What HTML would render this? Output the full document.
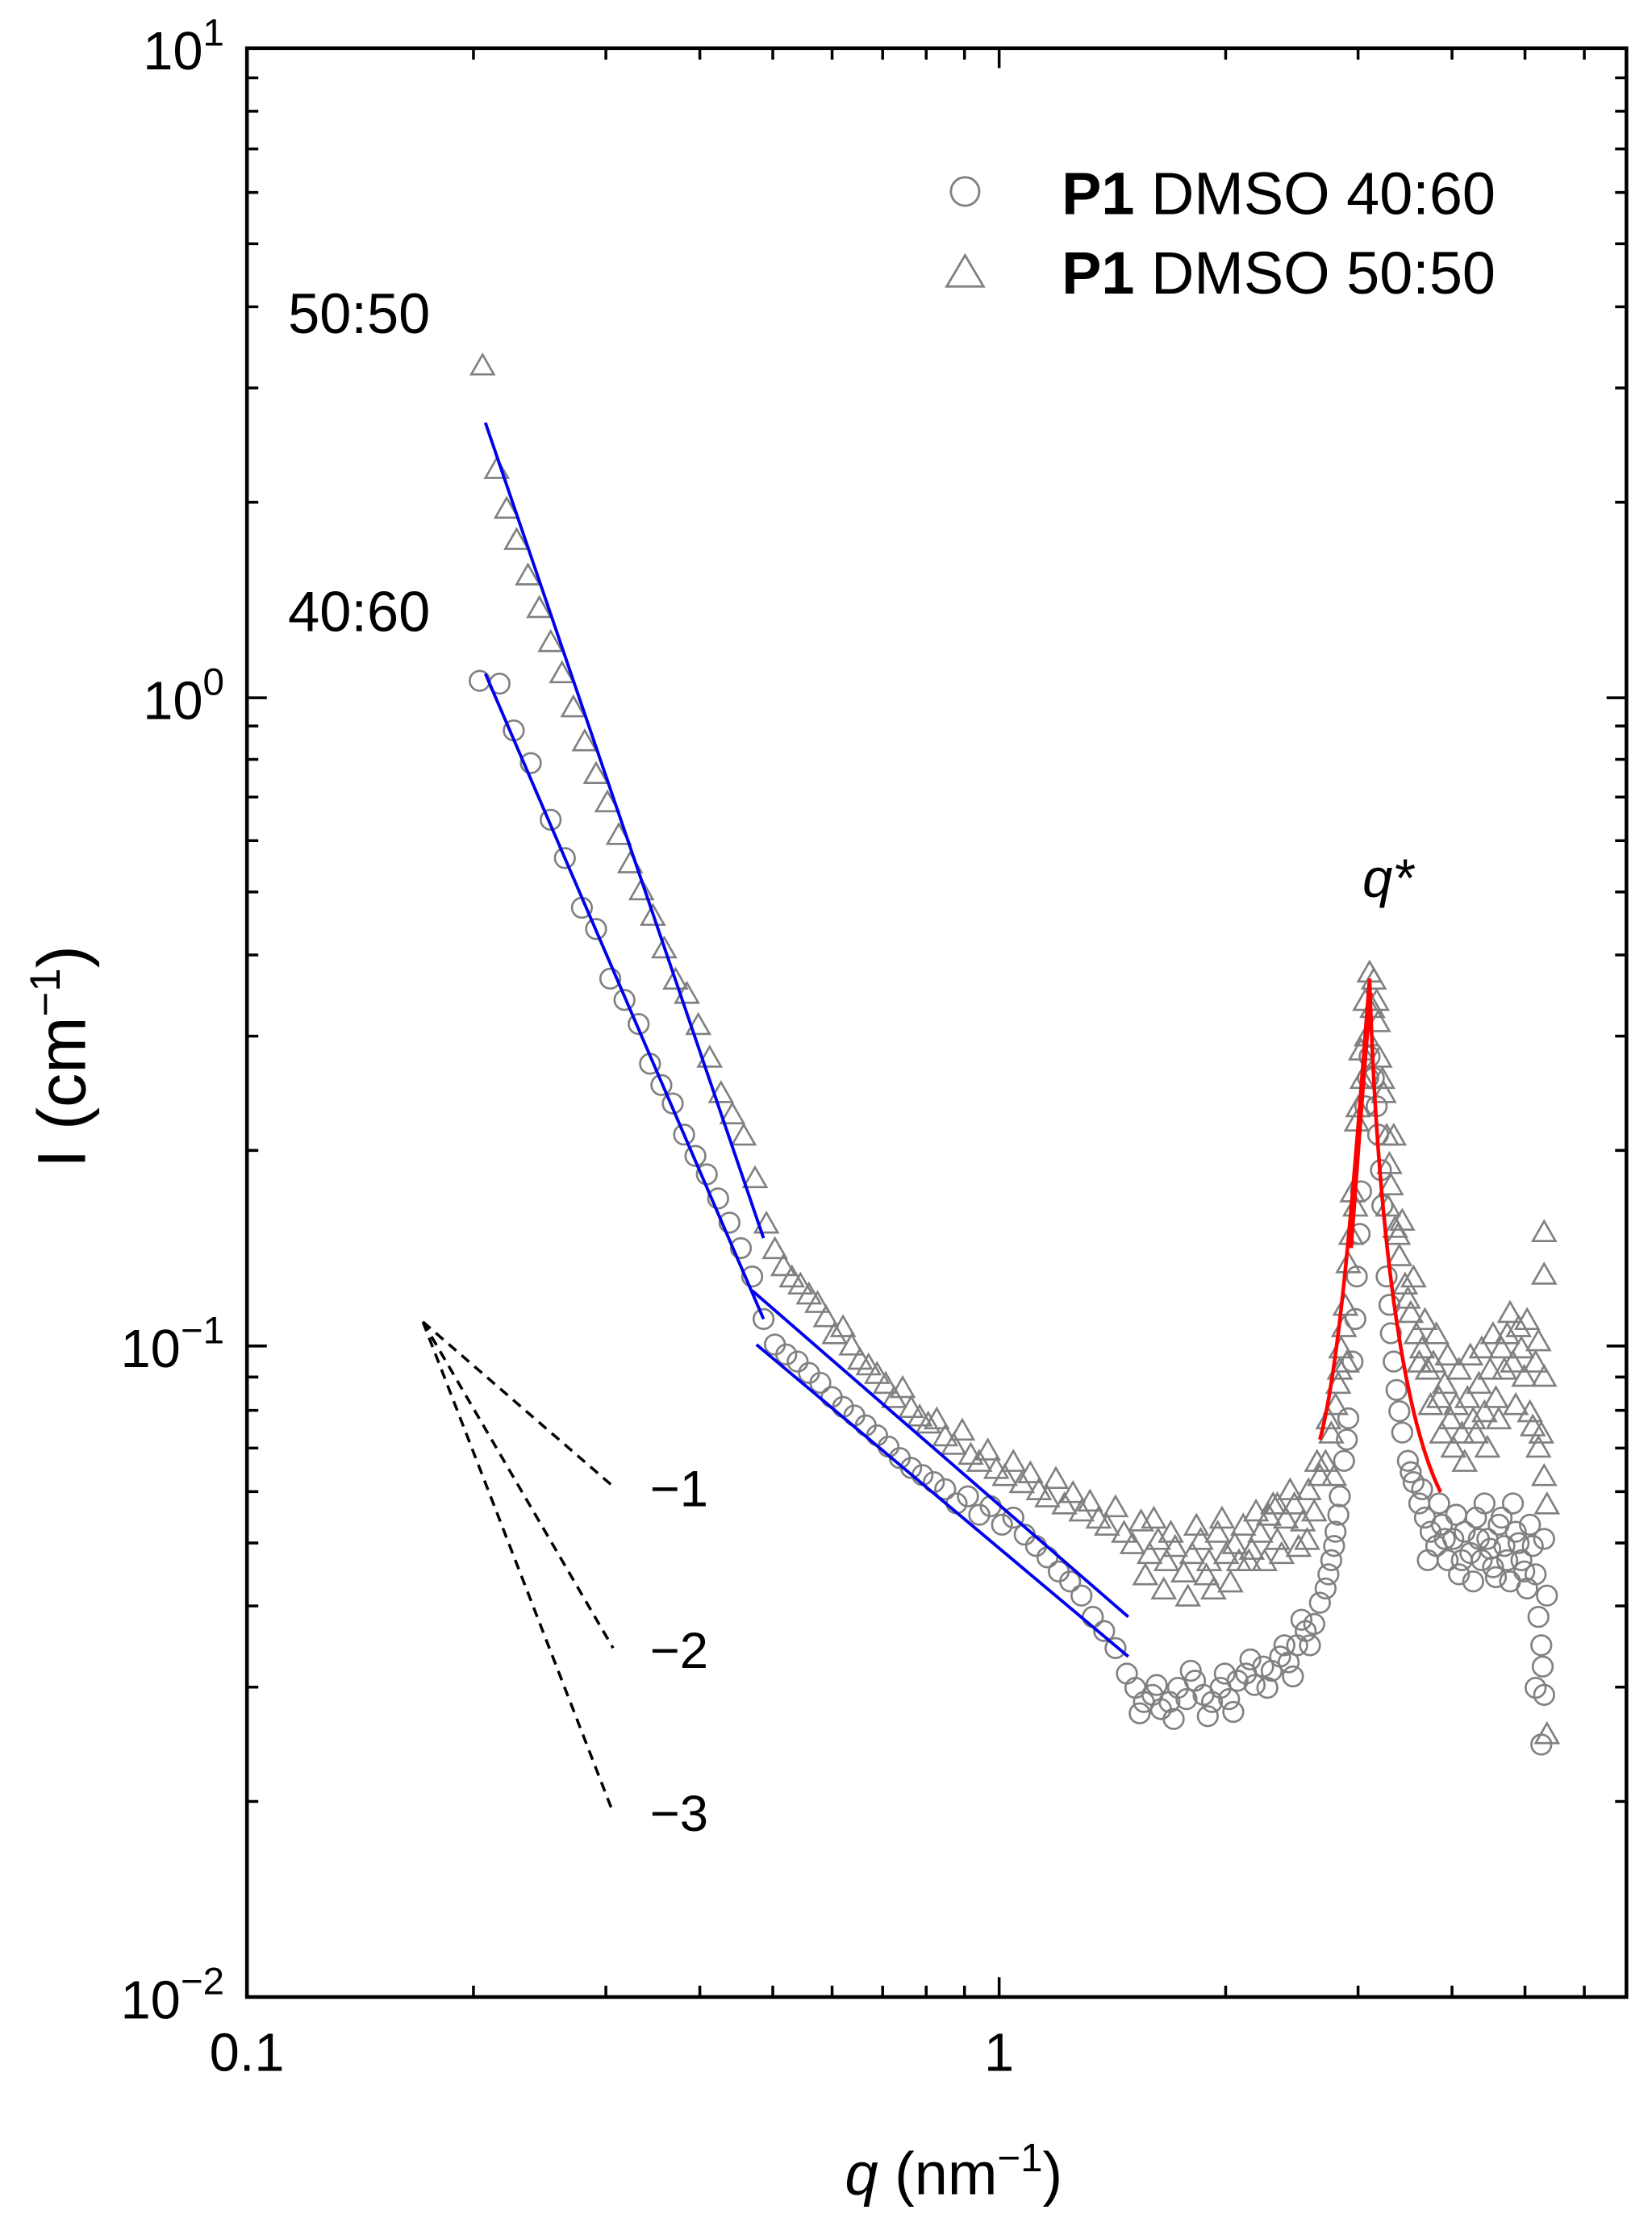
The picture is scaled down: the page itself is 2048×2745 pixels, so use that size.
<!DOCTYPE html>
<html><head><meta charset="utf-8"><style>html,body{margin:0;padding:0;background:#fff}svg{display:block}</style></head>
<body>
<svg xmlns="http://www.w3.org/2000/svg" xmlns:xlink="http://www.w3.org/1999/xlink" width="2048" height="2745" viewBox="0 0 1164 1561" preserveAspectRatio="none" font-family="Liberation Sans, Arial, sans-serif">
<defs>
<circle id="c" cx="0" cy="0" r="7" fill="none" stroke="#808080" stroke-width="1.5"/>
<path id="t" d="M-8,7 L0,-7 L8,7 Z" fill="none" stroke="#808080" stroke-width="1.5"/>
</defs>
<rect width="1164" height="1561" fill="#fff"/>
<g>
<use href="#c" x="338" y="480"/><use href="#c" x="352" y="482"/><use href="#c" x="362" y="515"/><use href="#c" x="374" y="538"/><use href="#c" x="388" y="578"/><use href="#c" x="398" y="605"/><use href="#c" x="410" y="640"/><use href="#c" x="420" y="655"/><use href="#c" x="430" y="690"/><use href="#c" x="440" y="705"/><use href="#c" x="450" y="722"/><use href="#c" x="458" y="750"/><use href="#c" x="466" y="765"/><use href="#c" x="474" y="778"/><use href="#c" x="482" y="800"/><use href="#c" x="490" y="815"/><use href="#c" x="498" y="828"/><use href="#c" x="506" y="845"/><use href="#c" x="514" y="862"/><use href="#c" x="522" y="880"/><use href="#c" x="530" y="900"/><use href="#c" x="538" y="930"/><use href="#c" x="546" y="948"/><use href="#c" x="554" y="955"/><use href="#c" x="562" y="960"/><use href="#c" x="570" y="968"/><use href="#c" x="578" y="975"/><use href="#c" x="586" y="985"/><use href="#c" x="594" y="992"/><use href="#c" x="602" y="998"/><use href="#c" x="610" y="1005"/><use href="#c" x="618" y="1012"/><use href="#c" x="626" y="1020"/><use href="#c" x="634" y="1028"/><use href="#c" x="642" y="1035"/><use href="#c" x="650" y="1040"/><use href="#c" x="658" y="1045"/><use href="#c" x="666" y="1050"/><use href="#c" x="674" y="1060"/><use href="#c" x="682" y="1055"/><use href="#c" x="690" y="1068"/><use href="#c" x="698" y="1062"/><use href="#c" x="706" y="1075"/><use href="#c" x="714" y="1070"/><use href="#c" x="722" y="1082"/><use href="#c" x="730" y="1090"/><use href="#c" x="738" y="1098"/><use href="#c" x="746" y="1108"/><use href="#c" x="754" y="1115"/><use href="#c" x="762" y="1125"/><use href="#c" x="770" y="1140"/><use href="#c" x="778" y="1150"/><use href="#c" x="786" y="1162"/><use href="#c" x="794" y="1180"/><use href="#c" x="800" y="1190"/><use href="#c" x="806" y="1200"/><use href="#c" x="812" y="1195"/><use href="#c" x="818" y="1205"/><use href="#c" x="824" y="1200"/><use href="#c" x="830" y="1190"/><use href="#c" x="836" y="1198"/><use href="#c" x="842" y="1185"/><use href="#c" x="848" y="1195"/><use href="#c" x="854" y="1200"/><use href="#c" x="860" y="1190"/><use href="#c" x="866" y="1198"/><use href="#c" x="872" y="1185"/><use href="#c" x="878" y="1180"/><use href="#c" x="884" y="1188"/><use href="#c" x="890" y="1175"/><use href="#c" x="896" y="1178"/><use href="#c" x="902" y="1168"/><use href="#c" x="908" y="1172"/><use href="#c" x="914" y="1160"/><use href="#c" x="920" y="1150"/><use href="#c" x="926" y="1145"/><use href="#c" x="930" y="1130"/><use href="#c" x="934" y="1120"/><use href="#c" x="938" y="1100"/><use href="#c" x="941" y="1080"/><use href="#c" x="944" y="1055"/><use href="#c" x="947" y="1030"/><use href="#c" x="950" y="1000"/><use href="#c" x="953" y="960"/><use href="#c" x="956" y="900"/><use href="#c" x="959" y="840"/><use href="#c" x="962" y="780"/><use href="#c" x="965" y="745"/><use href="#c" x="968" y="760"/><use href="#c" x="971" y="800"/><use href="#c" x="974" y="850"/><use href="#c" x="977" y="900"/><use href="#c" x="980" y="940"/><use href="#c" x="984" y="980"/><use href="#c" x="988" y="1010"/><use href="#c" x="992" y="1030"/><use href="#c" x="996" y="1045"/><use href="#c" x="1000" y="1060"/><use href="#c" x="1004" y="1070"/><use href="#c" x="1008" y="1080"/><use href="#c" x="1012" y="1090"/><use href="#c" x="1016" y="1075"/><use href="#c" x="1020" y="1100"/><use href="#c" x="1024" y="1085"/><use href="#c" x="1028" y="1110"/><use href="#c" x="1032" y="1080"/><use href="#c" x="1036" y="1095"/><use href="#c" x="1040" y="1070"/><use href="#c" x="1044" y="1100"/><use href="#c" x="1048" y="1085"/><use href="#c" x="1052" y="1105"/><use href="#c" x="1056" y="1075"/><use href="#c" x="1060" y="1090"/><use href="#c" x="1064" y="1115"/><use href="#c" x="1068" y="1080"/><use href="#c" x="1072" y="1100"/><use href="#c" x="1076" y="1120"/><use href="#c" x="1080" y="1090"/><use href="#c" x="1084" y="1140"/><use href="#c" x="1086" y="1160"/><use href="#c" x="1088" y="1195"/><use href="#c" x="1082" y="1190"/><use href="#c" x="1086" y="1230"/>
<use href="#c" x="803" y="1208"/><use href="#c" x="815" y="1188"/><use href="#c" x="827" y="1212"/><use href="#c" x="839" y="1178"/><use href="#c" x="851" y="1210"/><use href="#c" x="863" y="1180"/><use href="#c" x="869" y="1207"/><use href="#c" x="881" y="1170"/><use href="#c" x="893" y="1190"/><use href="#c" x="905" y="1160"/><use href="#c" x="911" y="1182"/><use href="#c" x="917" y="1142"/><use href="#c" x="923" y="1160"/><use href="#c" x="936" y="1110"/><use href="#c" x="940" y="1090"/><use href="#c" x="943" y="1068"/><use href="#c" x="949" y="1015"/><use href="#c" x="955" y="930"/><use href="#c" x="958" y="870"/><use href="#c" x="964" y="760"/><use href="#c" x="970" y="780"/><use href="#c" x="973" y="825"/><use href="#c" x="979" y="920"/><use href="#c" x="982" y="960"/><use href="#c" x="986" y="995"/><use href="#c" x="994" y="1038"/><use href="#c" x="1002" y="1050"/><use href="#c" x="1006" y="1100"/><use href="#c" x="1014" y="1060"/><use href="#c" x="1018" y="1085"/><use href="#c" x="1026" y="1068"/><use href="#c" x="1030" y="1100"/><use href="#c" x="1038" y="1115"/><use href="#c" x="1042" y="1085"/><use href="#c" x="1046" y="1060"/><use href="#c" x="1050" y="1092"/><use href="#c" x="1054" y="1112"/><use href="#c" x="1058" y="1070"/><use href="#c" x="1062" y="1100"/><use href="#c" x="1066" y="1060"/><use href="#c" x="1070" y="1088"/><use href="#c" x="1074" y="1108"/><use href="#c" x="1078" y="1075"/><use href="#c" x="1082" y="1110"/><use href="#c" x="1088" y="1085"/><use href="#c" x="1090" y="1125"/><use href="#c" x="1087" y="1175"/>
</g>
<g>
<use href="#t" x="340" y="257"/><use href="#t" x="350" y="330"/><use href="#t" x="357" y="358"/><use href="#t" x="364" y="380"/><use href="#t" x="372" y="405"/><use href="#t" x="380" y="428"/><use href="#t" x="388" y="452"/><use href="#t" x="396" y="474"/><use href="#t" x="404" y="498"/><use href="#t" x="412" y="522"/><use href="#t" x="420" y="545"/><use href="#t" x="428" y="565"/><use href="#t" x="436" y="588"/><use href="#t" x="444" y="608"/><use href="#t" x="452" y="627"/><use href="#t" x="460" y="645"/><use href="#t" x="468" y="668"/><use href="#t" x="476" y="690"/><use href="#t" x="484" y="700"/><use href="#t" x="492" y="722"/><use href="#t" x="500" y="745"/><use href="#t" x="508" y="770"/><use href="#t" x="516" y="785"/><use href="#t" x="524" y="800"/><use href="#t" x="532" y="830"/><use href="#t" x="540" y="862"/><use href="#t" x="546" y="880"/><use href="#t" x="552" y="892"/><use href="#t" x="558" y="900"/><use href="#t" x="564" y="905"/><use href="#t" x="570" y="912"/><use href="#t" x="576" y="918"/><use href="#t" x="582" y="928"/><use href="#t" x="588" y="940"/><use href="#t" x="594" y="935"/><use href="#t" x="600" y="948"/><use href="#t" x="606" y="958"/><use href="#t" x="612" y="962"/><use href="#t" x="618" y="968"/><use href="#t" x="624" y="975"/><use href="#t" x="630" y="985"/><use href="#t" x="636" y="978"/><use href="#t" x="642" y="992"/><use href="#t" x="648" y="998"/><use href="#t" x="654" y="1003"/><use href="#t" x="660" y="1000"/><use href="#t" x="666" y="1012"/><use href="#t" x="672" y="1018"/><use href="#t" x="678" y="1008"/><use href="#t" x="684" y="1025"/><use href="#t" x="690" y="1030"/><use href="#t" x="696" y="1022"/><use href="#t" x="702" y="1035"/><use href="#t" x="708" y="1040"/><use href="#t" x="714" y="1030"/><use href="#t" x="720" y="1045"/><use href="#t" x="726" y="1038"/><use href="#t" x="732" y="1050"/><use href="#t" x="738" y="1055"/><use href="#t" x="744" y="1042"/><use href="#t" x="750" y="1060"/><use href="#t" x="756" y="1052"/><use href="#t" x="762" y="1065"/><use href="#t" x="768" y="1058"/><use href="#t" x="774" y="1070"/><use href="#t" x="780" y="1075"/><use href="#t" x="786" y="1062"/><use href="#t" x="792" y="1080"/><use href="#t" x="798" y="1088"/><use href="#t" x="804" y="1072"/><use href="#t" x="810" y="1095"/><use href="#t" x="816" y="1085"/><use href="#t" x="822" y="1100"/><use href="#t" x="828" y="1090"/><use href="#t" x="834" y="1108"/><use href="#t" x="840" y="1095"/><use href="#t" x="846" y="1085"/><use href="#t" x="852" y="1100"/><use href="#t" x="858" y="1080"/><use href="#t" x="864" y="1095"/><use href="#t" x="870" y="1088"/><use href="#t" x="876" y="1075"/><use href="#t" x="882" y="1092"/><use href="#t" x="888" y="1080"/><use href="#t" x="894" y="1068"/><use href="#t" x="900" y="1085"/><use href="#t" x="906" y="1070"/><use href="#t" x="912" y="1060"/><use href="#t" x="918" y="1072"/><use href="#t" x="922" y="1050"/><use href="#t" x="926" y="1065"/><use href="#t" x="930" y="1040"/><use href="#t" x="934" y="1030"/><use href="#t" x="938" y="1010"/><use href="#t" x="941" y="990"/><use href="#t" x="944" y="965"/><use href="#t" x="947" y="935"/><use href="#t" x="950" y="890"/><use href="#t" x="953" y="840"/><use href="#t" x="956" y="790"/><use href="#t" x="959" y="740"/><use href="#t" x="962" y="705"/><use href="#t" x="965" y="685"/><use href="#t" x="968" y="690"/><use href="#t" x="971" y="720"/><use href="#t" x="974" y="760"/><use href="#t" x="977" y="800"/><use href="#t" x="980" y="835"/><use href="#t" x="983" y="865"/><use href="#t" x="986" y="885"/><use href="#t" x="990" y="905"/><use href="#t" x="994" y="925"/><use href="#t" x="998" y="940"/><use href="#t" x="1002" y="950"/><use href="#t" x="1006" y="965"/><use href="#t" x="1010" y="960"/><use href="#t" x="1014" y="985"/><use href="#t" x="1018" y="975"/><use href="#t" x="1022" y="1000"/><use href="#t" x="1026" y="990"/><use href="#t" x="1030" y="1010"/><use href="#t" x="1034" y="985"/><use href="#t" x="1038" y="1000"/><use href="#t" x="1042" y="975"/><use href="#t" x="1046" y="995"/><use href="#t" x="1050" y="965"/><use href="#t" x="1054" y="985"/><use href="#t" x="1058" y="950"/><use href="#t" x="1062" y="940"/><use href="#t" x="1066" y="960"/><use href="#t" x="1070" y="935"/><use href="#t" x="1074" y="970"/><use href="#t" x="1078" y="995"/><use href="#t" x="1082" y="960"/><use href="#t" x="1086" y="1010"/><use href="#t" x="1088" y="868"/><use href="#t" x="1088" y="898"/><use href="#t" x="1090" y="1222"/><use href="#t" x="1088" y="1040"/><use href="#t" x="1084" y="1020"/>
<use href="#t" x="948" y="920"/><use href="#t" x="952" y="870"/><use href="#t" x="957" y="780"/><use href="#t" x="970" y="705"/><use href="#t" x="975" y="770"/><use href="#t" x="979" y="820"/><use href="#t" x="985" y="870"/><use href="#t" x="992" y="915"/><use href="#t" x="960" y="760"/><use href="#t" x="945" y="950"/><use href="#t" x="820" y="1120"/><use href="#t" x="850" y="1110"/><use href="#t" x="880" y="1100"/><use href="#t" x="900" y="1060"/><use href="#t" x="915" y="1090"/>
<use href="#t" x="807" y="1110"/><use href="#t" x="813" y="1070"/><use href="#t" x="825" y="1080"/><use href="#t" x="837" y="1125"/><use href="#t" x="843" y="1075"/><use href="#t" x="855" y="1120"/><use href="#t" x="861" y="1070"/><use href="#t" x="867" y="1115"/><use href="#t" x="873" y="1100"/><use href="#t" x="885" y="1065"/><use href="#t" x="891" y="1100"/><use href="#t" x="897" y="1060"/><use href="#t" x="903" y="1095"/><use href="#t" x="909" y="1050"/><use href="#t" x="921" y="1085"/><use href="#t" x="928" y="1030"/><use href="#t" x="936" y="1000"/><use href="#t" x="940" y="1040"/><use href="#t" x="943" y="975"/><use href="#t" x="949" y="960"/><use href="#t" x="955" y="850"/><use href="#t" x="963" y="730"/><use href="#t" x="967" y="710"/><use href="#t" x="972" y="745"/><use href="#t" x="978" y="850"/><use href="#t" x="982" y="800"/><use href="#t" x="988" y="860"/><use href="#t" x="996" y="900"/><use href="#t" x="1000" y="960"/><use href="#t" x="1004" y="930"/><use href="#t" x="1008" y="990"/><use href="#t" x="1012" y="940"/><use href="#t" x="1016" y="1010"/><use href="#t" x="1020" y="955"/><use href="#t" x="1024" y="1020"/><use href="#t" x="1028" y="965"/><use href="#t" x="1032" y="1030"/><use href="#t" x="1036" y="955"/><use href="#t" x="1040" y="1010"/><use href="#t" x="1044" y="950"/><use href="#t" x="1048" y="1020"/><use href="#t" x="1052" y="940"/><use href="#t" x="1056" y="1000"/><use href="#t" x="1060" y="965"/><use href="#t" x="1064" y="925"/><use href="#t" x="1068" y="990"/><use href="#t" x="1072" y="950"/><use href="#t" x="1076" y="930"/><use href="#t" x="1080" y="1005"/><use href="#t" x="1084" y="945"/><use href="#t" x="1088" y="970"/><use href="#t" x="1090" y="1060"/>
</g>
<g fill="none" stroke="#0000ee" stroke-width="2.2">
<path d="M342,298 L538,873"/>
<path d="M342,475 L538,930"/>
<path d="M530,910 L795,1140"/>
<path d="M533,948 L795,1168"/>
</g>
<g fill="none" stroke="#ff0000" stroke-width="2.6">
<path d="M930,1015 C945,960 955,820 965,690"/>
<path d="M965,690 C969,820 982,985 1015,1052"/>
<path d="M952,880 C958,800 962,740 966,700"/>
</g>
<g stroke="#000" stroke-width="2" stroke-dasharray="7,5" fill="none">
<path d="M298,932 L432,1048"/>
<path d="M298,932 L432,1162"/>
<path d="M298,932 L432,1278"/>
</g>
<g font-size="36" fill="#000">
<text x="458" y="1062">−1</text>
<text x="458" y="1176">−2</text>
<text x="458" y="1291">−3</text>
<text x="203" y="235" font-size="40">50:50</text>
<text x="203" y="445" font-size="40">40:60</text>
<text x="960" y="632" font-size="38" font-style="italic">q*</text>
</g>
<circle cx="680" cy="135" r="10" fill="none" stroke="#808080" stroke-width="1.6"/>
<path d="M667,202 L680,180 L693,202 Z" fill="none" stroke="#808080" stroke-width="1.6"/>
<g font-size="42" fill="#000">
<text x="748" y="151"><tspan font-weight="bold">P1</tspan> DMSO  40:60</text>
<text x="748" y="207"><tspan font-weight="bold">P1</tspan> DMSO  50:50</text>
</g>
<path stroke="#000" stroke-width="2" fill="none" d="
M333.6,1408v-8M426.9,1408v-8M493.1,1408v-8M544.5,1408v-8M586.3,1408v-8M621.9,1408v-8M652.6,1408v-8M679.6,1408v-8M704,1408v-14M863.6,1408v-8M956.9,1408v-8M1023.1,1408v-8M1074.5,1408v-8M1116.3,1408v-8
M333.6,34v8M426.9,34v8M493.1,34v8M544.5,34v8M586.3,34v8M621.9,34v8M652.6,34v8M679.6,34v8M704,34v14M863.6,34v8M956.9,34v8M1023.1,34v8M1074.5,34v8M1116.3,34v8
M174,354.1h8M174,273.5h8M174,216.3h8M174,171.9h8M174,135.7h8M174,105h8M174,78.4h8M174,54.9h8M174,492h14
M174,811.1h8M174,730.5h8M174,673.3h8M174,628.9h8M174,592.7h8M174,562h8M174,535.4h8M174,511.9h8M174,949h14
M174,1270.1h8M174,1189.5h8M174,1132.3h8M174,1087.9h8M174,1051.7h8M174,1021h8M174,994.4h8M174,970.9h8
M1146,354.1h-8M1146,273.5h-8M1146,216.3h-8M1146,171.9h-8M1146,135.7h-8M1146,105h-8M1146,78.4h-8M1146,54.9h-8M1146,492h-14
M1146,811.1h-8M1146,730.5h-8M1146,673.3h-8M1146,628.9h-8M1146,592.7h-8M1146,562h-8M1146,535.4h-8M1146,511.9h-8M1146,949h-14
M1146,1270.1h-8M1146,1189.5h-8M1146,1132.3h-8M1146,1087.9h-8M1146,1051.7h-8M1146,1021h-8M1146,994.4h-8M1146,970.9h-8"/>
<rect x="174" y="34" width="972" height="1374" fill="none" stroke="#000" stroke-width="2.6"/>
<g font-size="38" fill="#000" text-anchor="end">
<text x="158" y="49">10<tspan dy="-17" font-size="27">1</tspan></text>
<text x="158" y="507">10<tspan dy="-17" font-size="27">0</tspan></text>
<text x="158" y="964">10<tspan dy="-17" font-size="27">−1</tspan></text>
<text x="158" y="1423">10<tspan dy="-17" font-size="27">−2</tspan></text>
</g>
<g font-size="38" fill="#000" text-anchor="middle">
<text x="174" y="1460">0.1</text>
<text x="704" y="1460">1</text>
<text x="672" y="1547" font-size="42"><tspan font-style="italic">q</tspan> (nm<tspan dy="-16" font-size="28">−1</tspan><tspan dy="16">)</tspan></text>
</g>
<text transform="translate(60,745) rotate(-90)" font-size="48" text-anchor="middle" fill="#000">I (cm<tspan dy="-18" font-size="30">−1</tspan><tspan dy="18">)</tspan></text>
</svg>
</body></html>
